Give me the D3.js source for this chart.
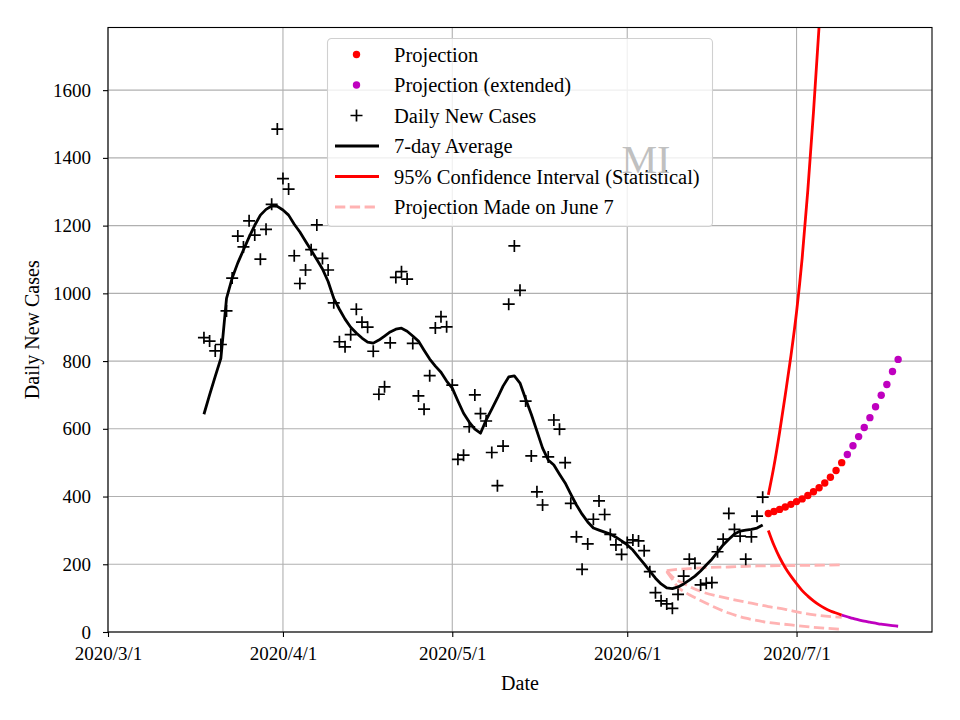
<!DOCTYPE html>
<html>
<head>
<meta charset="utf-8">
<script src="https://cdn.jsdelivr.net/npm/d3@7"></script>
<style>
  body { margin: 0; background: #fff; }
  svg text { font-family: "Liberation Serif", "Times New Roman", Times, serif; fill: #000; }
</style>
</head>
<body>
<div id="chart"></div>
<script>
// daily new cases, one value per day from 2020/3/18 to 2020/6/25
const casesStart = [3, 18];
const dailyCases = [
  869, 859, 830, 849, 948, 1045, 1169, 1137, 1214, 1172, 1101, 1189, 1263, 1485,
  1339, 1308, 1111, 1029, 1069, 1129, 1202, 1103, 1069, 972, 857, 842, 878, 953,
  915, 900, 829, 702, 724, 854, 1047, 1064, 1042, 852, 697, 658, 757, 898,
  931, 901, 729, 510, 522, 606, 700, 645, 623, 530, 432, 549, 968, 1140,
  1009, 682, 520, 414, 375, 517, 626, 599, 500, 380, 281, 185, 260, 333,
  387, 347, 288, 257, 229, 264, 272, 269, 240, 178, 116, 92, 83, 70,
  111, 165, 215, 203, 139, 144, 146, 237, 274, 350, 303, 283, 215, 281,
  342, 398
];
// 7-day average, same days
const weekAverage = [
  643, 700, 755, 808, 985, 1045, 1090, 1128, 1166, 1201, 1231, 1248, 1258, 1257,
  1246, 1231, 1204, 1181, 1154, 1127, 1100, 1072, 1035, 985, 953, 924, 900, 883,
  868, 856, 853, 862, 874, 886, 894, 897, 888, 874, 859, 832, 806, 785,
  767, 741, 720, 682, 646, 620, 599, 587, 626, 658, 691, 726, 753, 756,
  735, 688, 643, 593, 543, 508, 493, 466, 440, 407, 375, 348, 325, 307,
  301, 295, 289, 280, 269, 257, 242, 221, 201, 180, 159, 142, 130, 128,
  133, 142, 153, 165, 180, 198, 215, 236, 257, 274, 289, 298, 301, 303,
  307, 316
];

// projection, daily from 2020/6/26 (red) then 2020/7/10 (magenta)
const projStart = [6, 26];
const projection = [350, 356, 362, 369, 377, 385, 393, 403, 414, 426, 440, 457, 477, 500];
const projExtStart = [7, 10];
const projectionExt = [524, 550, 577, 604, 633, 665, 699, 731, 769, 805];

// 95% confidence interval, daily from 2020/6/26
const ciUpper = [405, 490, 590, 700, 815, 945, 1105, 1305, 1535, 1790, 2070];
const ciLower = [300, 256, 220, 190, 165, 143, 122, 106, 92, 80, 70, 62, 56, 50];
// extended lower bound, from 2020/7/9
const ciLowerExtStart = [7, 9];
const ciLowerExt = [50, 45, 40, 36, 32, 29, 26, 23, 21, 19, 17];

// projection made on June 7: [month, day, value]
const june7Upper = [[6, 8, 181], [6, 10, 185], [6, 12, 187], [6, 15, 190], [6, 19, 192],
  [6, 24, 195], [6, 29, 196], [7, 4, 197], [7, 9, 198]];
const june7Middle = [[6, 8, 181], [6, 9, 163], [6, 11, 143], [6, 14, 120], [6, 17, 106],
  [6, 20, 95], [6, 23, 85], [6, 26, 75], [6, 29, 67], [7, 2, 56], [7, 5, 49], [7, 9, 43]];
const june7Lower = [[6, 8, 178], [6, 9, 155], [6, 10, 132], [6, 11, 120], [6, 12, 110],
  [6, 14, 93], [6, 16, 77], [6, 19, 56], [6, 22, 41], [6, 26, 28], [6, 30, 21],
  [7, 4, 14], [7, 9, 8]];

const yTicks = [0, 200, 400, 600, 800, 1000, 1200, 1400, 1600];
const legendLabels = [
  "Projection",
  "Projection (extended)",
  "Daily New Cases",
  "7-day Average",
  "95% Confidence Interval (Statistical)",
  "Projection Made on June 7"
];

const serif = "'Liberation Serif', 'Times New Roman', Times, serif";
const day = (m, d) => new Date(2020, m - 1, d);
const series = (start, values) =>
  values.map((v, i) => ({ date: day(start[0], start[1] + i), value: v }));
const points = (rows) => rows.map((r) => ({ date: day(r[0], r[1]), value: r[2] }));

const width = 960;
const height = 720;
const margin = { top: 27.5, right: 28, bottom: 88, left: 108 };

const svg = d3
  .select("#chart")
  .append("svg")
  .attr("width", width)
  .attr("height", height)
  .attr("font-family", serif);

const x = d3
  .scaleTime()
  .domain([day(3, 1), day(7, 25)])
  .range([margin.left, width - margin.right]);

const y = d3
  .scaleLinear()
  .domain([0, 1785])
  .range([height - margin.bottom, margin.top]);

svg
  .append("clipPath")
  .attr("id", "plot-clip")
  .append("rect")
  .attr("x", margin.left)
  .attr("y", margin.top)
  .attr("width", x.range()[1] - margin.left)
  .attr("height", y.range()[0] - margin.top);

// grid
const monthTicks = x.ticks(d3.timeMonth.every(1));
const grid = svg.append("g").attr("stroke", "#b0b0b0").attr("stroke-width", 1.1);
grid
  .selectAll(".vgrid")
  .data(monthTicks)
  .join("line")
  .attr("x1", (d) => x(d))
  .attr("x2", (d) => x(d))
  .attr("y1", y.range()[0])
  .attr("y2", margin.top);
grid
  .selectAll(".hgrid")
  .data(yTicks)
  .join("line")
  .attr("x1", margin.left)
  .attr("x2", x.range()[1])
  .attr("y1", (d) => y(d))
  .attr("y2", (d) => y(d));

const plot = svg.append("g").attr("clip-path", "url(#plot-clip)");

const line = d3
  .line()
  .x((d) => x(d.date))
  .y((d) => y(d.value));

const smooth = d3
  .line()
  .x((d) => x(d.date))
  .y((d) => y(d.value))
  .curve(d3.curveMonotoneX);

// projection made on June 7
[june7Upper, june7Middle, june7Lower].forEach((rows) => {
  plot
    .append("path")
    .attr("d", smooth(points(rows)))
    .attr("fill", "none")
    .attr("stroke", "#ffb3b3")
    .attr("stroke-width", 2.8)
    .attr("stroke-dasharray", "10.3,4.5");
});

// confidence interval
plot
  .append("path")
  .attr("d", smooth(series(projStart, ciUpper)))
  .attr("fill", "none")
  .attr("stroke", "#ff0000")
  .attr("stroke-width", 2.8);
plot
  .append("path")
  .attr("d", smooth(series(projStart, ciLower)))
  .attr("fill", "none")
  .attr("stroke", "#ff0000")
  .attr("stroke-width", 2.8);
plot
  .append("path")
  .attr("d", smooth(series(ciLowerExtStart, ciLowerExt)))
  .attr("fill", "none")
  .attr("stroke", "#bf00bf")
  .attr("stroke-width", 2.8);

// daily cases
const plusPath = "M-6,0H6M0,-6V6";
plot
  .append("g")
  .selectAll("path")
  .data(series(casesStart, dailyCases))
  .join("path")
  .attr("transform", (d) => `translate(${x(d.date)},${y(d.value)})`)
  .attr("d", plusPath)
  .attr("stroke", "#000")
  .attr("stroke-width", 1.7);

// 7-day average
plot
  .append("path")
  .attr("d", line(series(casesStart, weekAverage)))
  .attr("fill", "none")
  .attr("stroke", "#000")
  .attr("stroke-width", 2.8)
  .attr("stroke-linejoin", "round");

// projection dots
plot
  .append("g")
  .selectAll("circle")
  .data(series(projStart, projection))
  .join("circle")
  .attr("cx", (d) => x(d.date))
  .attr("cy", (d) => y(d.value))
  .attr("r", 3.7)
  .attr("fill", "#ff0000");
plot
  .append("g")
  .selectAll("circle")
  .data(series(projExtStart, projectionExt))
  .join("circle")
  .attr("cx", (d) => x(d.date))
  .attr("cy", (d) => y(d.value))
  .attr("r", 3.7)
  .attr("fill", "#bf00bf");

// axes
const fmt = (d) => `${d.getFullYear()}/${d.getMonth() + 1}/${d.getDate()}`;
const xAxis = svg
  .append("g")
  .attr("transform", `translate(0,${y.range()[0]})`)
  .call(d3.axisBottom(x).tickValues(monthTicks).tickFormat(fmt).tickSize(5).tickPadding(10).tickSizeOuter(0));
const yAxis = svg
  .append("g")
  .attr("transform", `translate(${margin.left},0)`)
  .call(d3.axisLeft(y).tickValues(yTicks).tickFormat(d3.format("d")).tickSize(5).tickPadding(12).tickSizeOuter(0));
[xAxis, yAxis].forEach((g) => {
  g.attr("font-family", serif);
  g.select(".domain").remove();
  g.selectAll("line").attr("stroke", "#000").attr("stroke-width", 1.1);
  g.selectAll("text").attr("font-size", 19).attr("font-family", serif);
});

svg
  .append("rect")
  .attr("x", margin.left)
  .attr("y", margin.top)
  .attr("width", x.range()[1] - margin.left)
  .attr("height", y.range()[0] - margin.top)
  .attr("fill", "none")
  .attr("stroke", "#000")
  .attr("stroke-width", 1.1);

svg
  .append("text")
  .attr("x", (margin.left + x.range()[1]) / 2)
  .attr("y", 690)
  .attr("text-anchor", "middle")
  .attr("font-size", 20)
  .text("Date");
svg
  .append("text")
  .attr("transform", `translate(38.5,${(margin.top + y.range()[0]) / 2}) rotate(-90)`)
  .attr("text-anchor", "middle")
  .attr("font-size", 20)
  .text("Daily New Cases");

// legend
const legend = svg.append("g").attr("transform", "translate(327.5,38.5)");
legend
  .append("rect")
  .attr("width", 385)
  .attr("height", 188)
  .attr("rx", 4)
  .attr("fill", "#fff")
  .attr("fill-opacity", 0.8)
  .attr("stroke", "#d0d0d0")
  .attr("stroke-width", 1.1);

const rows = legend
  .selectAll(".legend-row")
  .data(legendLabels)
  .join("g")
  .attr("transform", (d, i) => `translate(0,${16 + i * 30.5})`);

rows
  .append("text")
  .attr("x", 66.5)
  .attr("y", 7)
  .attr("font-size", 20.5)
  .text((d) => d);

rows.each(function (d, i) {
  const g = d3.select(this);
  if (i < 2) {
    g.append("circle").attr("cx", 29).attr("cy", 0).attr("r", 3.7)
      .attr("fill", i == 0 ? "#ff0000" : "#bf00bf");
  } else if (i == 2) {
    g.append("path").attr("transform", "translate(29,0)").attr("d", plusPath)
      .attr("stroke", "#000").attr("stroke-width", 1.7);
  } else {
    g.append("line").attr("x1", 7.5).attr("x2", 51.5).attr("y1", 0).attr("y2", 0)
      .attr("stroke", i == 3 ? "#000" : i == 4 ? "#ff0000" : "#ffb3b3")
      .attr("stroke-width", 2.8)
      .attr("stroke-dasharray", i == 5 ? "10.3,4.5" : null);
  }
});

// watermark
svg
  .append("text")
  .attr("x", 621.5)
  .attr("y", 173.3)
  .attr("font-size", 40)
  .style("fill", "#c0c0c0")
  .text("MI");
</script>
</body>
</html>
